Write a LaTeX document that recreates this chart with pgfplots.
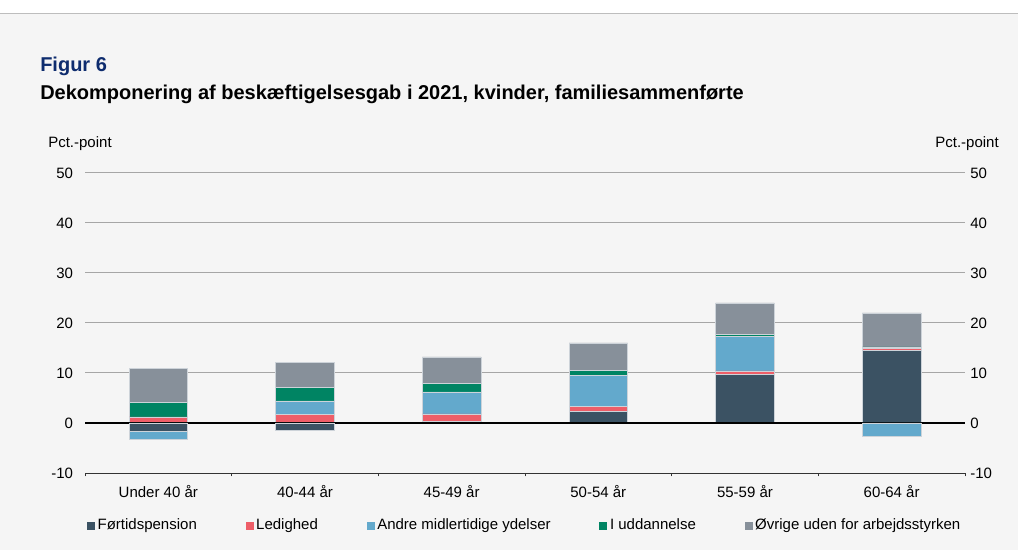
\documentclass[border=0pt]{standalone}
\usepackage{pgfplots}
\usepackage{pgfplotstable}
\pgfplotsset{compat=1.18}
\usepackage{fontspec}
\setmainfont{Liberation Sans}
\definecolor{bg}{HTML}{F5F5F5}
\definecolor{cF}{HTML}{3B5263}
\definecolor{cL}{HTML}{EE5E68}
\definecolor{cA}{HTML}{63A9CC}
\definecolor{cU}{HTML}{008463}
\definecolor{cO}{HTML}{87909A}
\definecolor{gridc}{HTML}{A6A6A6}
\definecolor{barline}{HTML}{CDD3D9}
\definecolor{titleblue}{HTML}{0E2C6E}
\definecolor{topline}{HTML}{BDBDBD}
\definecolor{axisc}{HTML}{333333}

% positive parts
\pgfplotstableread{
x F L A U O
0 0 1.2 0 2.9 6.8
1 0 1.7 2.7 2.7 5.0
2 0.3 1.5 4.4 1.7 5.3
3 2.3 1.0 6.2 1.0 5.5
4 9.7 0.7 6.9 0.4 6.3
5 14.5 0.4 0 0.3 6.8
}\pos
% negative parts
\pgfplotstableread{
x F A
0 -1.6 -1.7
1 -1.4 0
5 0 -2.6
}\neg

\pgfplotsset{
  common/.style={
    at={(O)}, anchor=south west, scale only axis,
    width=660pt, height=225pt,
    xmin=-0.5, xmax=5.5, ymin=-10, ymax=50,
    ybar stacked, bar width=0.4,
    ytick={-10,0,...,50},
    /pgf/number format/assume math mode=true,
    ticklabel style={font=\fontsize{11.25}{13}\selectfont},
  },
  barsty/.style={fill=#1, draw=barline, line width=0.3pt},
}

\begin{document}
\begin{tikzpicture}[x=0.75pt,y=0.75pt]
\useasboundingbox (0,0) rectangle (1018,550);
\fill[white] (0,0) rectangle (1018,550);
\fill[bg] (0,0) rectangle (1018,536);
\draw[topline, line width=0.75pt] (0,536) -- (1018,536);
\coordinate (O) at (85,77);

\node[anchor=base west, font=\bfseries\fontsize{15}{18}\selectfont, text=titleblue, inner sep=0pt] at (40,478) {Figur 6};
\node[anchor=base west, font=\bfseries\fontsize{15}{18}\selectfont, inner sep=0pt] at (40,450) {Dekomponering af beskæftigelsesgab i 2021, kvinder, familiesammenførte};

\node[font=\fontsize{11.25}{13}\selectfont, inner sep=0pt] at (80,406) {Pct.-point};
\node[font=\fontsize{11.25}{13}\selectfont, inner sep=0pt] at (967,406) {Pct.-point};

\begin{axis}[common,
  axis x line*=bottom, axis y line*=left,
  y axis line style={draw=none},
  x axis line style={axisc, line width=0.6pt},
  ymajorgrids, grid style={gridc, line width=0.75pt},
  ytick style={draw=none},
  yticklabel style={anchor=east, inner sep=0pt, xshift=-4.5pt},
  xtick={0,...,5},
  xticklabels={Under 40 år, 40-44 år, 45-49 år, 50-54 år, 55-59 år, 60-64 år},
  minor xtick={-0.5,0.5,...,5.5},
  major x tick style={draw=none},
  minor x tick style={axisc, line width=0.6pt},
  minor tick length=2.6pt,
  tick align=outside,
  xticklabel style={inner sep=0pt, yshift=-4.5pt},
  legend style={draw=none, fill=none, at={(0.5,-0.175)}, anchor=center,
    legend columns=5, font=\fontsize{11.25}{13}\selectfont,
    /tikz/every even column/.append style={column sep=34.5pt},
    inner sep=0pt},
  legend image code/.code={\fill[#1,draw=none] (0pt,-3pt) rectangle (6pt,3pt);},
  legend cell align=left,
]
\addplot[barsty=cF] table[x=x,y=F] {\pos};
\addplot[barsty=cL] table[x=x,y=L] {\pos};
\addplot[barsty=cA] table[x=x,y=A] {\pos};
\addplot[barsty=cU] table[x=x,y=U] {\pos};
\addplot[barsty=cO] table[x=x,y=O] {\pos};
\legend{Førtidspension, Ledighed, Andre midlertidige ydelser, I uddannelse, Øvrige uden for arbejdsstyrken}
\end{axis}

\begin{axis}[common,
  axis x line=none, axis y line*=right,
  y axis line style={draw=none},
  ytick style={draw=none},
  yticklabel style={anchor=west, inner sep=0pt, xshift=3.75pt},
]
\addplot[barsty=cF] table[x=x,y=F] {\neg};
\addplot[barsty=cA] table[x=x,y=A] {\neg};
\draw[black, line width=0.9pt] (axis cs:-0.5,0) -- (axis cs:5.5,0);
\end{axis}
\end{tikzpicture}
\end{document}
